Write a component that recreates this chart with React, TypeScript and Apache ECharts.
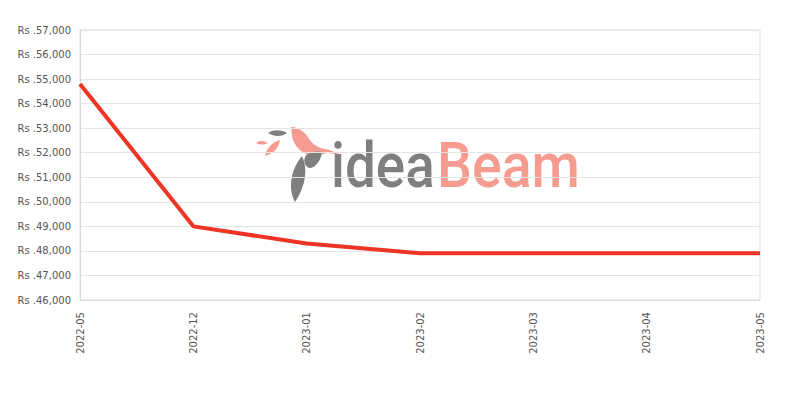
import React, { useEffect, useRef } from "react";
import * as echarts from "echarts";

const categories = ["2022-05", "2022-12", "2023-01", "2023-02", "2023-03", "2023-04", "2023-05"];
const prices = [54800, 49000, 48300, 47900, 47900, 47900, 47900];
const yMin = 46000;
const yMax = 57000;
const yStep = 1000;

const birdPath =
  "M291,127 C299,127 306,133 310,140 C314,146 321,149 330,150 L341,155 L328,153 C320,155 311,157 304,153 C298,149 293,143 292,136 Z";
const wingPath =
  "M306,155 C312,151 318,151 322,152 C321,160 316,168 309,168 C304,166 303,160 306,155 Z";
const featherPath =
  "M302,156 C308,168 306,186 295,202 C288,190 290,170 302,156 Z";
const leafGray = "M268,133 C274,129 282,130 287,133 C282,137 274,137 268,133 Z";
const leafPink1 = "M256,143 C260,140 264,141 268,143 C264,145 260,145 256,143 Z";
const leafPink2 = "M265,156 C266,149 272,142 280,140 C279,148 273,154 265,156 Z";

const shapeNames = ["birdBody", "birdWing", "birdFeather", "leafGray", "leafPink1", "leafPink2"];
const shapePaths = [birdPath, wingPath, featherPath, leafGray, leafPink1, leafPink2];
shapeNames.forEach((n, i) => {
  echarts.graphic.registerShape(n, echarts.graphic.extendPath(shapePaths[i], {}) as any);
});

export default function App() {
  const ref = useRef<HTMLDivElement>(null);
  useEffect(() => {
    document.body.style.margin = "0";
    const chart = echarts.init(ref.current!, undefined, { renderer: "svg" });
    const pink = "#f59b90";
    const gray = "#7f7f7f";
    chart.setOption({
      animation: false,
      grid: { left: 80, right: 40, top: 30, bottom: 100, show: true, borderColor: "#dddddd", borderWidth: 1 },
      xAxis: {
        type: "category",
        data: categories,
        boundaryGap: false,
        axisLine: { lineStyle: { color: "#d8d8d8" } },
        axisTick: { show: false },
        axisLabel: { rotate: 90, color: "#555", fontSize: 10, fontFamily: "DejaVu Sans", margin: 12, interval: 0 },
        splitLine: { show: false },
      },
      yAxis: {
        type: "value",
        min: yMin,
        max: yMax,
        interval: yStep,
        axisLine: { show: true, lineStyle: { color: "#d8d8d8" } },
        axisTick: { show: false },
        axisLabel: {
          color: "#555",
          fontSize: 10,
          fontFamily: "DejaVu Sans",
          margin: 9,
          formatter: (v: number) => "Rs ." + v.toLocaleString("en-US"),
        },
        splitLine: { lineStyle: { color: "#e4e4e4" } },
      },
      graphic: [
        {
          type: "group",
          z: -10,
          silent: true,
          children: [
            { type: "leafGray", style: { fill: gray } },
            { type: "leafPink1", style: { fill: pink } },
            { type: "leafPink2", style: { fill: pink } },
            { type: "birdBody", style: { fill: pink } },
            { type: "birdWing", style: { fill: gray } },
            { type: "birdFeather", style: { fill: gray } },
            {
              type: "text",
              x: 331,
              y: 165,
              scaleX: 0.87,
              style: { text: "idea", fontSize: 63, fontWeight: 500, fontFamily: "Roboto", fill: gray, textVerticalAlign: "middle", textAlign: "left" },
            },
            {
              type: "text",
              x: 437,
              y: 165,
              scaleX: 0.88,
              style: { text: "Beam", fontSize: 63, fontWeight: 500, fontFamily: "Roboto", fill: pink, textVerticalAlign: "middle", textAlign: "left" },
            },
          ],
        },
      ],
      series: [
        {
          type: "line",
          data: prices,
          showSymbol: false,
          symbol: "none",
          lineStyle: { color: "#ee3424", width: 4 },
          z: 5,
        },
      ],
    });
    return () => chart.dispose();
  }, []);
  return <div ref={ref} style={{ width: 800, height: 400 }} />;
}
